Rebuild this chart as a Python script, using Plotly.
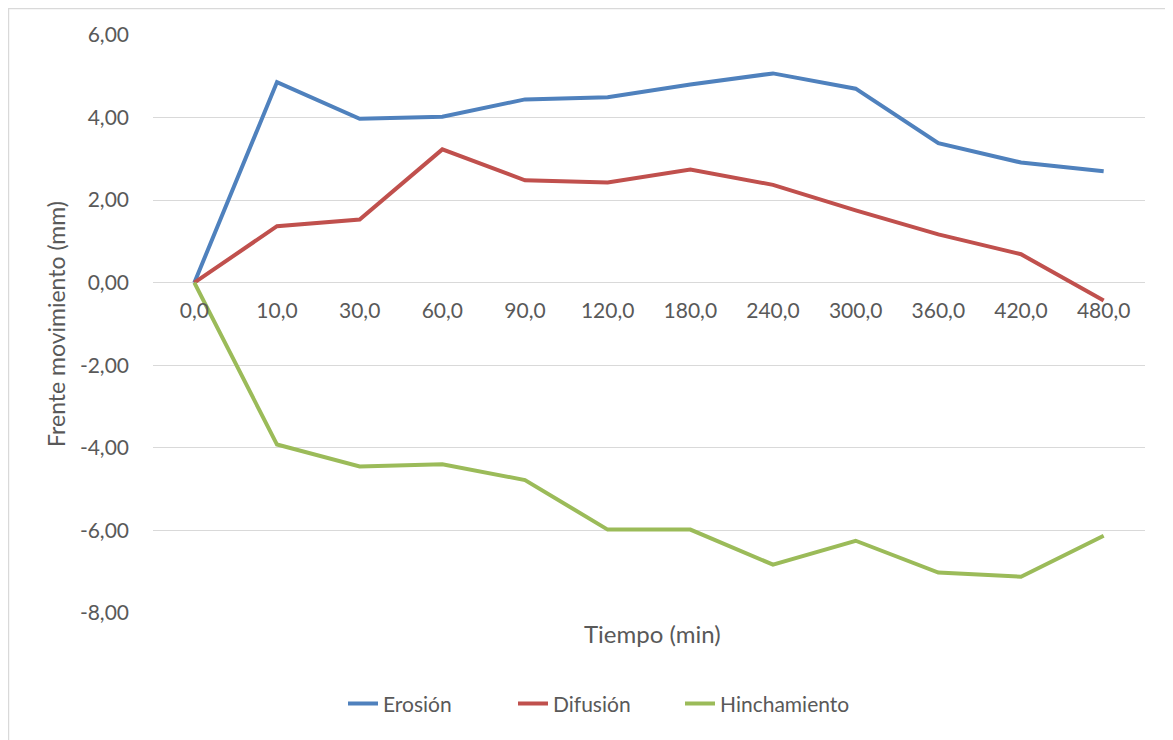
import plotly.graph_objects as go

categories = ["0,0", "10,0", "30,0", "60,0", "90,0", "120,0", "180,0", "240,0", "300,0", "360,0", "420,0", "480,0"]
erosion = [0.00, 4.86, 3.97, 4.02, 4.44, 4.49, 4.80, 5.07, 4.70, 3.38, 2.91, 2.70]
difusion = [0.00, 1.37, 1.53, 3.23, 2.48, 2.43, 2.74, 2.37, 1.75, 1.17, 0.69, -0.43]
hinchamiento = [0.00, -3.92, -4.45, -4.40, -4.78, -5.98, -5.98, -6.83, -6.25, -7.02, -7.12, -6.13]
ytick_vals = [-8, -6, -4, -2, 0, 2, 4, 6]
ytick_text = ["-8,00", "-6,00", "-4,00", "-2,00", "0,00", "2,00", "4,00", "6,00"]

series = [
    ("Erosión", erosion, "#4f81bd", "legend"),
    ("Difusión", difusion, "#c0504d", "legend2"),
    ("Hinchamiento", hinchamiento, "#9bbb59", "legend3"),
]

FONT = "Lato"
GREY = "#595959"

fig = go.Figure()
for name, vals, color, lg in series:
    fig.add_trace(go.Scatter(x=categories, y=vals, name=name, mode="lines", legend=lg,
                             line=dict(color=color, width=4)))

ymin, ymax = -8, 6
PLOT_LEFT = 153.0
PLOT_W = 992.0


def leg(px):
    return dict(orientation="h", x=(px - PLOT_LEFT) / PLOT_W, xanchor="left", y=-0.157,
                yanchor="middle", font=dict(size=21, color=GREY), bgcolor="rgba(0,0,0,0)")


fig.update_layout(
    width=1173, height=740,
    margin=dict(l=145, r=36, t=27, b=135),
    paper_bgcolor="white", plot_bgcolor="white",
    font=dict(family=FONT, color=GREY, size=21),
    showlegend=True,
    legend=leg(343),
    legend2=leg(513),
    legend3=leg(680),
    xaxis=dict(type="category", categoryorder="array", categoryarray=categories,
               range=[-0.5, len(categories) - 0.5],
               anchor="free", position=(0 - ymin) / (ymax - ymin),
               showgrid=False, showline=False, zeroline=False, ticks="",
               ticklabelstandoff=13, tickfont=dict(size=21, color=GREY)),
    yaxis=dict(range=[ymin, ymax], tickvals=ytick_vals, ticktext=ytick_text,
               showgrid=True, gridcolor="#d9d9d9", gridwidth=1.3,
               zeroline=False, showline=False, ticks="",
               ticklabelstandoff=23, tickfont=dict(size=21, color=GREY),
               title=dict(text="Frente movimiento (mm)", font=dict(size=23, color=GREY), standoff=7)),
    annotations=[dict(text="Tiempo (min)", xref="paper", yref="paper", x=0.5035, y=-0.036,
                      xanchor="center", yanchor="middle", showarrow=False,
                      font=dict(size=24, color=GREY))],
    shapes=[dict(type="rect", xref="paper", yref="paper", x0=-0.1457, y0=-0.25, x1=1.06, y1=1.0458,
                 line=dict(color="#d9d9d9", width=1.5), fillcolor="rgba(0,0,0,0)", layer="below")],
)

fig.write_html("out.html")
